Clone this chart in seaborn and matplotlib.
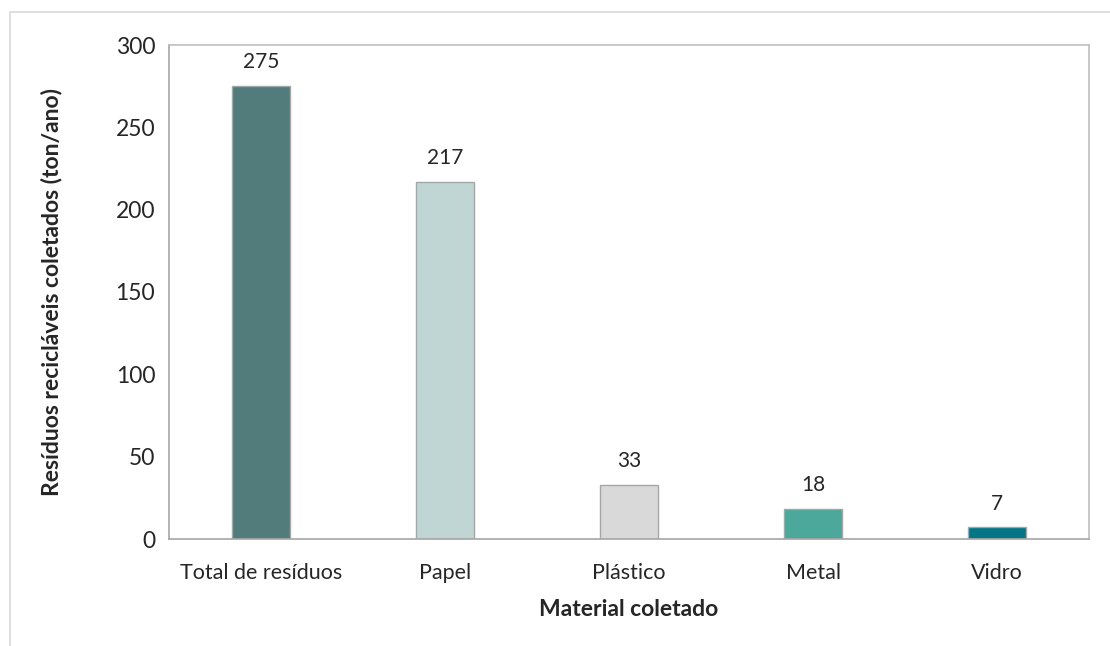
import matplotlib
matplotlib.use('Agg')
import matplotlib.pyplot as plt
import seaborn as sns
import pandas as pd
import numpy as np

# Dados do grafico
materiais = ['Total de resíduos', 'Papel', 'Plástico', 'Metal', 'Vidro']
toneladas = [275, 217, 33, 18, 7]
cores = ['#527B7B', '#C0D6D5', '#D9D9D9', '#4BA89A', '#047585']

df = pd.DataFrame({'material': materiais, 'ton': toneladas})

sns.set_style('white')
plt.rcParams['font.family'] = ['Lato', 'DejaVu Sans']

fig = plt.figure(figsize=(11.1, 6.46), dpi=100)
ax = fig.add_axes([169 / 1110, 1 - 539 / 646, 920 / 1110, 494 / 646])

sns.barplot(data=df, x='material', y='ton', hue='material', palette=cores,
            saturation=1, width=0.31, edgecolor='#A6A6A6', linewidth=1,
            legend=False, ax=ax)

for i, v in enumerate(toneladas):
    ax.annotate(str(v), (i, v), xytext=(0, 10), textcoords='offset points',
                ha='center', va='bottom', fontsize=15)

ax.set_ylim(0, 300)
ax.set_xlim(-0.5, len(materiais) - 0.5)
ax.set_yticks(range(0, 301, 50))
ax.tick_params(axis='y', labelsize=16.5, length=6, color='#A6A6A6', width=1, pad=4)
ax.tick_params(axis='x', which='major', labelsize=15.5, length=0, pad=17)
ax.set_xticks(np.arange(-0.5, len(materiais)), minor=True)
ax.tick_params(axis='x', which='minor', length=6, color='#A6A6A6', width=1)
ax.tick_params(axis='both', direction='out')

for s in ax.spines.values():
    s.set_visible(True)
    s.set_color('#BFBFBF')
    s.set_linewidth(1.2)
ax.spines['left'].set_color('#A6A6A6')
ax.spines['bottom'].set_color('#A6A6A6')

ax.set_xlabel('Material coletado', fontsize=16.5, fontweight='bold', labelpad=12)
ax.set_ylabel('Resíduos recicláveis coletados (ton/ano)', fontsize=16.5,
              fontweight='bold', labelpad=38)

# borda externa da area do grafico
fig.add_artist(plt.Rectangle((10 / 1110, -0.1), 1.2, 1 - 12 / 646 + 0.1,
                             transform=fig.transFigure, fill=False,
                             edgecolor='#D9D9D9', linewidth=1.2))

fig.savefig('out.png', dpi=100)
